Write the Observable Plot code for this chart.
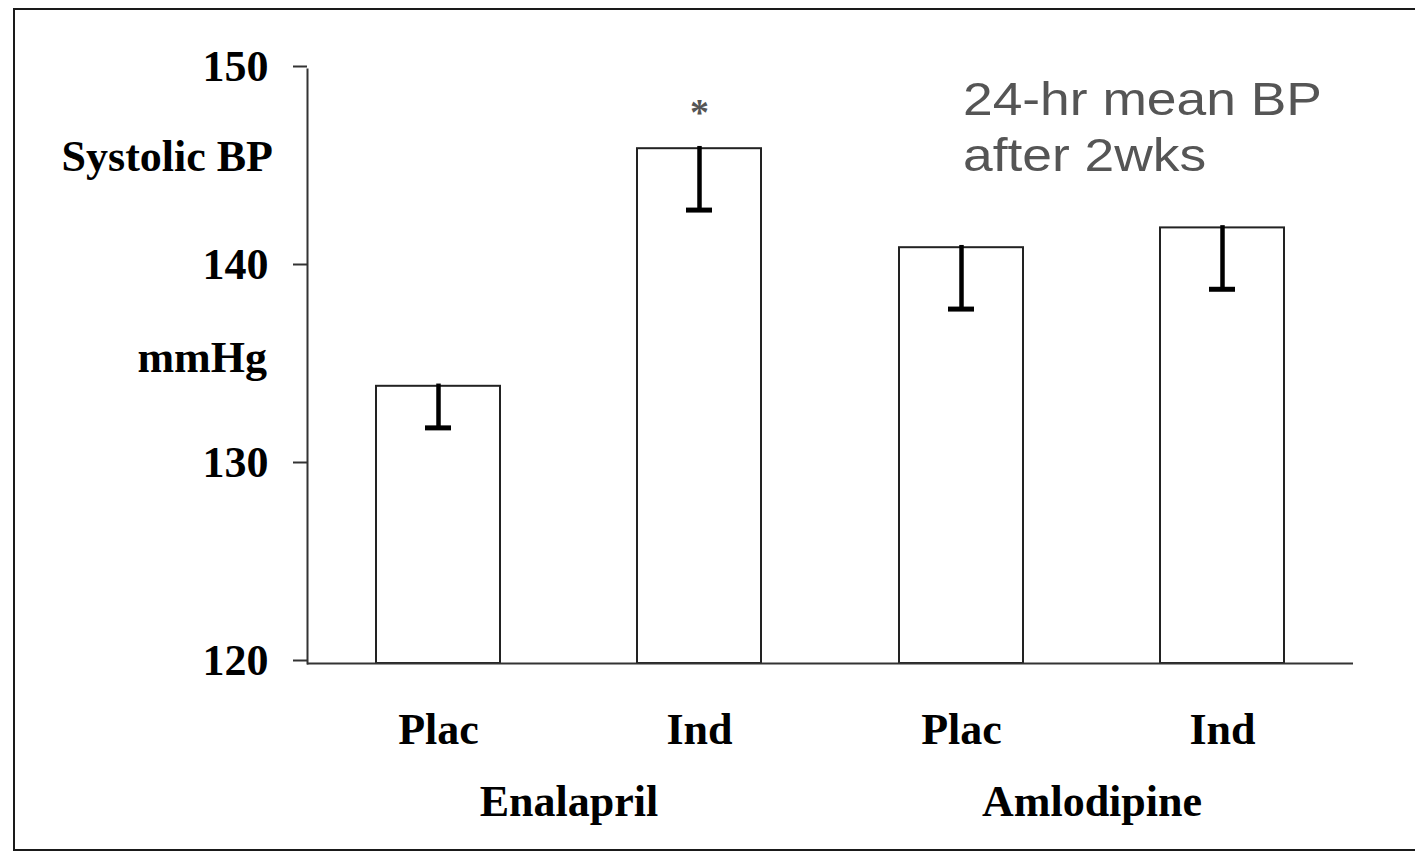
<!DOCTYPE html>
<html>
<head>
<meta charset="utf-8">
<script src="https://cdn.jsdelivr.net/npm/d3@7"></script>
<script src="https://cdn.jsdelivr.net/npm/@observablehq/plot@0.6"></script>
<style>
  html, body { margin: 0; padding: 0; background: #fff; }
  #wrap { position: relative; width: 1415px; height: 854px; overflow: hidden; background: #fff; }
  #box { position: absolute; left: 13px; top: 8px; width: 1420px; height: 839px; border: 2px solid #1a1a1a; box-sizing: content-box; }
  #chart { position: absolute; left: 0; top: 0; }
  .ylab { position: absolute; font-family: "Liberation Serif", "Times New Roman", serif; font-weight: bold; font-size: 44px; line-height: 44px; color: #000; white-space: nowrap; text-align: right; }
  #note { position: absolute; left: 963px; top: 71px; font-family: "Liberation Sans", Arial, sans-serif; font-size: 46px; line-height: 56px; color: #555; white-space: nowrap; transform: scaleX(1.16); transform-origin: left top; }
</style>
</head>
<body>
<div id="wrap">
  <div id="box"></div>
  <div id="chart"></div>
  <div class="ylab" style="right:1142px; top:135px;">Systolic BP</div>
  <div class="ylab" style="right:1148px; top:336px;">mmHg</div>
  <div id="note">24-hr mean BP<br>after 2wks</div>
</div>
<script>
// Data
const groups = ["Enalapril", "Enalapril", "Amlodipine", "Amlodipine"];
const treatments = ["Plac", "Ind", "Plac", "Ind"];
const means = [134, 146, 141, 142];
const lowerErrors = [131.9, 142.9, 137.9, 138.9];
const marks = ["", "*", "", ""];
const yTicks = [120, 130, 140, 150];
const groupOrder = ["Enalapril", "Amlodipine"];
const treatmentOrder = ["Plac", "Ind"];

const data = means.map((m, i) => ({
  group: groups[i], treatment: treatments[i], mean: m, lower: lowerErrors[i], sig: marks[i]
}));

const serif = '"Liberation Serif", "Times New Roman", serif';

const chart = Plot.plot({
  width: 1415,
  height: 854,
  marginTop: 69,
  marginBottom: 191,
  marginLeft: 307,
  marginRight: 62,
  style: { fontFamily: serif, fontWeight: "bold", background: "transparent", overflow: "visible" },
  fx: { domain: groupOrder, padding: 0 },
  x: { domain: treatmentOrder, paddingInner: 0.526, paddingOuter: 0.263 },
  y: { domain: [yTicks[0], yTicks[yTicks.length - 1]] },
  marks: [
    Plot.barY(data, { fx: "group", x: "treatment", y1: yTicks[0], y2: "mean", fill: "white", stroke: "#222", strokeWidth: 2 }),
    Plot.ruleX(data, { fx: "group", x: "treatment", y1: "lower", y2: "mean", stroke: "black", strokeWidth: 4.5, strokeLinecap: "square" }),
    Plot.tickY(data, { fx: "group", x: "treatment", y: "lower", stroke: "black", strokeWidth: 5, insetLeft: 49, insetRight: 49 }),
    Plot.text(data, { fx: "group", x: "treatment", y: "mean", text: "sig", dy: -36, fontSize: 38, fill: "#555" }),
    Plot.ruleY([yTicks[0]], { stroke: "#333", strokeWidth: 2 }),
    Plot.frame({ anchor: "left", facetAnchor: "left", stroke: "#333", strokeWidth: 2 }),
    Plot.axisY({ ticks: yTicks, tickFormat: "d", tickSize: 14, tickPadding: 25, fontSize: 44, stroke: "#333", strokeWidth: 2, fill: "black", label: null, dy: -3 }),
    Plot.axisX({ tickSize: 0, tickPadding: 49, fontSize: 44, fill: "black", label: null }),
    Plot.axisFx({ anchor: "bottom", tickSize: 0, tickPadding: 121, fontSize: 44, fill: "black", label: null })
  ]
});
document.getElementById("chart").appendChild(chart);
</script>
</body>
</html>
